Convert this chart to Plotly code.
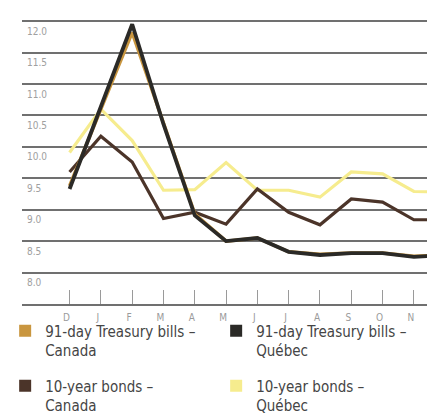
import plotly.graph_objects as go

months = ["D", "J", "F", "M", "A", "M", "J", "J", "A", "S", "O", "N", "D"]
tb_canada = [9.38, 10.6, 11.82, 10.38, 8.93, 8.5, 8.55, 8.33, 8.29, 8.31, 8.31, 8.26, 8.28]
tb_quebec = [9.33, 10.62, 11.95, 10.36, 8.91, 8.5, 8.55, 8.33, 8.28, 8.31, 8.31, 8.25, 8.28]
bonds_canada = [9.6, 10.17, 9.76, 8.86, 8.96, 8.77, 9.33, 8.96, 8.76, 9.17, 9.12, 8.84, 8.84]
bonds_quebec = [9.91, 10.6, 10.1, 9.31, 9.32, 9.75, 9.31, 9.31, 9.2, 9.6, 9.57, 9.29, 9.28]
y_ticks = [8.0, 8.5, 9.0, 9.5, 10.0, 10.5, 11.0, 11.5, 12.0]
y_labels = ["8.0", "8.5", "9.0", "9.5", "10.0", "10.5", "11.0", "11.5", "12.0"]

names = ["91-day Treasury bills –<br>Canada", "91-day Treasury bills –<br>Québec",
         "10-year bonds –<br>Canada", "10-year bonds –<br>Québec"]
colors = ["#c9963f", "#2b2a27", "#4b3429", "#f6ec8e"]
series = [tb_canada, tb_quebec, bonds_canada, bonds_quebec]
legend_ids = ["legend", "legend", "legend2", "legend2"]
draw_order = [3, 2, 0, 1]
widths = {0: 3.5, 1: 3.8, 2: 3.2, 3: 3.2}
font_fam = "DejaVu Sans Condensed, Liberation Sans Narrow, sans-serif"

x = list(range(len(months)))
fig = go.Figure()
for i in draw_order:
    fig.add_trace(go.Scatter(x=x, y=series[i], mode="lines", showlegend=False,
                             line=dict(color=colors[i], width=widths[i]), hoverinfo="skip"))
for i in range(4):
    fig.add_trace(go.Scatter(x=[None], y=[None], mode="markers", name=names[i],
                             legend=legend_ids[i],
                             marker=dict(symbol="square", size=14, color=colors[i])))

for v, lab in zip(y_ticks, y_labels):
    fig.add_annotation(x=0.007, xref="paper", y=v, yref="y", text=lab, showarrow=False,
                       xanchor="left", yanchor="middle", yshift=-10,
                       font=dict(size=10, color="#a0a0a0", family=font_fam))

leg_common = dict(orientation="h", xanchor="left", yanchor="top",
                  entrywidth=166, entrywidthmode="pixels", valign="top",
                  font=dict(size=15, color="#454545", family=font_fam),
                  itemsizing="constant", traceorder="normal",
                  bgcolor="rgba(0,0,0,0)")
fig.update_layout(
    width=435, height=415,
    margin=dict(l=14, r=0, t=10, b=119, autoexpand=False),
    paper_bgcolor="white", plot_bgcolor="white",
    font=dict(family=font_fam),
    legend=dict(x=-0.04, y=-0.037, **leg_common),
    legend2=dict(x=-0.04, y=-0.229, **leg_common),
    showlegend=True,
)
fig.update_xaxes(
    range=[-1.52, 11.93], tickmode="array", tickvals=x, ticktext=months,
    ticks="inside", ticklen=14, tickwidth=1, tickcolor="#9a9a9a",
    showgrid=False, zeroline=False, showline=True, linecolor="#707070", linewidth=2,
    tickfont=dict(size=10, color="#9a9a9a"), ticklabelshift=-3, ticklabelstandoff=3,
)
fig.update_yaxes(
    range=[7.5, 12.05], tickmode="array", tickvals=y_ticks, showticklabels=False,
    showgrid=True, gridcolor="#707070", gridwidth=2, zeroline=False, showline=False,
)
fig.write_html("out.html")
